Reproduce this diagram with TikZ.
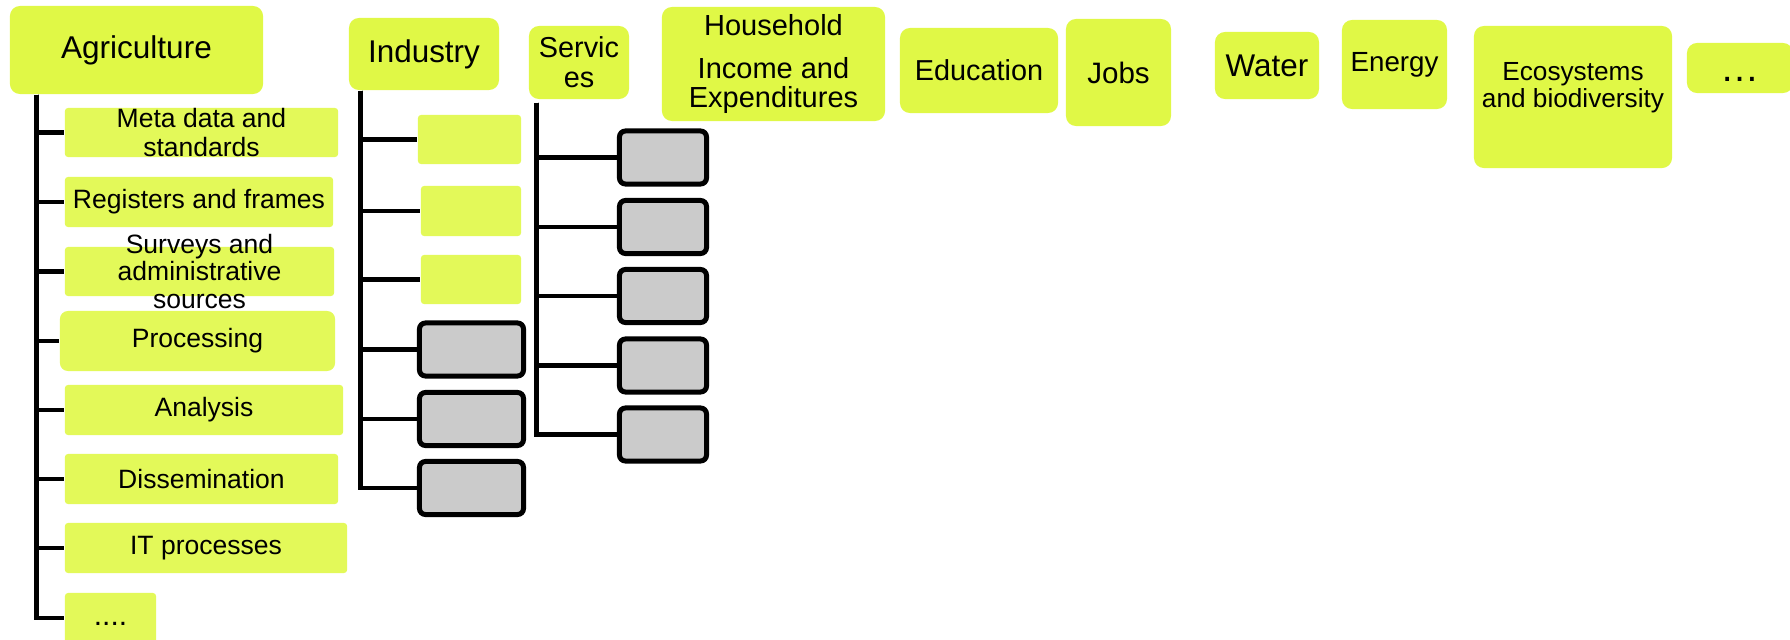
\documentclass[tikz,border=0pt]{standalone}
\usepackage{fontspec}
\setmainfont{Liberation Sans}
\definecolor{boxlime}{RGB}{224,248,70}
\definecolor{boxgrey}{RGB}{203,203,203}

\begin{document}
\begin{tikzpicture}[x=0.01cm,y=-0.01cm,
    topbox/.style={fill=boxlime,rounded corners=0.1cm,inner sep=0pt},
    subbox/.style={fill=boxlime!90!white,rounded corners=0.03cm,inner sep=0pt,
      font=\fontsize{7.54}{8}\selectfont},
    greybox/.style={draw,line width=0.05cm,fill=boxgrey,rounded corners=0.06cm,
      inner sep=0pt,minimum width=1.04cm,minimum height=0.53cm},
    bus/.style={line width=0.045cm}]
  \useasboundingbox (0,0) rectangle (1790,639);

  % top row
  \node[topbox,minimum width=2.53cm,minimum height=0.88cm,font=\fontsize{8.96}{9.3}\selectfont] (Agr) at (136.5,50) {Agriculture};
  \node[topbox,minimum width=1.5cm,minimum height=0.72cm,font=\fontsize{8.93}{9.3}\selectfont] (Ind) at (424,54) {Industry};
  \node[topbox,minimum width=1cm,minimum height=0.73cm,align=center,font=\fontsize{8.2}{8.5}\selectfont] (Ser) at (579,62.5) {Servic\\es};
  \node[topbox,minimum width=2.23cm,minimum height=1.14cm,align=center,font=\fontsize{8.25}{8.25}\selectfont] (Hh) at (773.5,64) {Household\\[0.14cm]Income and\\Expenditures};
  \node[topbox,minimum width=1.58cm,minimum height=0.85cm,font=\fontsize{8.2}{8.5}\selectfont] (Edu) at (979,70.5) {Education};
  \node[topbox,minimum width=1.05cm,minimum height=1.07cm,font=\fontsize{8.4}{8.7}\selectfont] (Jobs) at (1118.5,72.5) {Jobs};
  \node[topbox,minimum width=1.04cm,minimum height=0.67cm,font=\fontsize{8.93}{9.3}\selectfont] (Wat) at (1267,65.5) {Water};
  \node[topbox,minimum width=1.05cm,minimum height=0.89cm,font=\fontsize{7.88}{8.2}\selectfont] (En) at (1394.5,64.5) {Energy};
  \node[topbox,minimum width=1.98cm,minimum height=1.42cm,align=center,font=\fontsize{7.45}{7.7}\selectfont] (Eco) at (1573,97) {Ecosystems\\and biodiversity\rule[-0.24cm]{0pt}{0pt}};
  \node[topbox,minimum width=1.06cm,minimum height=0.5cm,text height=0.26cm,text depth=0pt,font=\fontsize{11.1}{12}\selectfont] (More) at (1740,68) {…};

  % agriculture
  \node[subbox,minimum width=2.73cm,minimum height=0.49cm,align=center] (A1) at (201.5,132.5) {Meta data and\\standards};
  \node[subbox,minimum width=2.68cm,minimum height=0.5cm] (A2) at (199,202) {Registers and frames};
  \node[subbox,minimum width=2.69cm,minimum height=0.49cm,
    label={[align=center,font=\fontsize{7.54}{7.8}\selectfont]center:Surveys and\\administrative\\sources}] (A3) at (199.5,271.5) {};
  \node[subbox,minimum width=2.75cm,minimum height=0.6cm,rounded corners=0.08cm] (A4) at (197.5,341) {Processing};
  \node[subbox,minimum width=2.78cm,minimum height=0.5cm] (A5) at (204,410) {Analysis};
  \node[subbox,minimum width=2.73cm,minimum height=0.5cm] (A6) at (201.5,479) {Dissemination};
  \node[subbox,minimum width=2.82cm,minimum height=0.5cm] (A7) at (206,548) {IT processes};
  \node[subbox,minimum width=0.91cm,minimum height=0.5cm,text height=0.15cm,text depth=0pt,font=\fontsize{8.5}{9}\selectfont] (A8) at (110.5,618) {....};

  % industry
  \node[subbox,minimum width=1.03cm,minimum height=0.49cm] (I1) at (469.5,139.5) {};
  \node[subbox,minimum width=1cm,minimum height=0.5cm] (I2) at (471,211) {};
  \node[subbox,minimum width=1cm,minimum height=0.49cm] (I3) at (471,279.5) {};
  \foreach \i/\y in {4/349.5,5/419,6/488}
    \node[greybox] (I\i) at (471.5,\y) {};

  % services
  \foreach \i/\y in {1/157.5,2/227,3/296,4/365.5,5/434.5}
    \node[greybox,minimum width=0.87cm] (S\i) at (663,\y) {};

  \coordinate (Abus) at ([xshift=0.275cm]Agr.south west);
  \coordinate (Ibus) at ([xshift=0.12cm]Ind.south west);
  \coordinate (Sbus) at ([xshift=0.08cm,yshift=-0.03cm]Ser.south west);
  \foreach \i in {1,...,8} \draw[bus] (Abus) |- (A\i.west);
  \foreach \i in {1,...,6} \draw[bus] (Ibus) |- (I\i.west);
  \foreach \i in {1,...,5} \draw[bus] (Sbus) |- (S\i.west);
\end{tikzpicture}
\end{document}
